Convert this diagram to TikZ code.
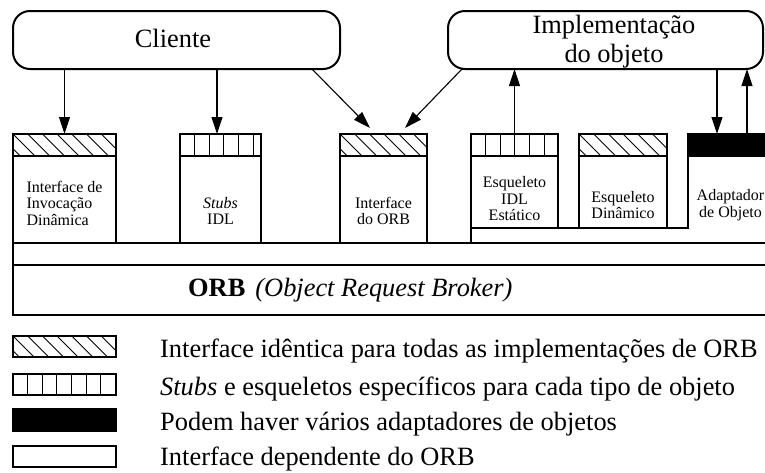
\documentclass[tikz,border=0pt]{standalone}
\usepackage{fontspec}
\setmainfont{Liberation Serif}
\usetikzlibrary{arrows.meta}
\begin{document}
\begin{tikzpicture}[x=1pt,y=-1pt,
  outl/.style={draw, line width=1.8pt, inner sep=0pt, outer sep=0pt},
  rbox/.style={outl, line width=2pt, rounded corners=17pt, minimum width=#1, minimum height=58pt},
  hatch/.style={path picture={\foreach \k in {-2,...,9}{\draw[line width=0.9pt] ([xshift=\k*14.7pt]path picture bounding box.north west) -- ++(24pt,-24pt);}}},
  stripes/.style={path picture={\foreach \k in {1,...,6}{\draw[line width=0.9pt] ([xshift=\k*14.6pt]path picture bounding box.north west) -- ([xshift=\k*14.6pt]path picture bounding box.south west);}}},
  band/.style={outl, minimum width=#1, minimum height=22pt},
  lbl/.style={inner sep=0pt, align=center, font=\fontsize{16}{16.5}\selectfont},
  big/.style={inner sep=0pt, font=\fontsize{26.4}{29}\selectfont},
  arr/.style={line width=1.1pt, -{Triangle[length=17pt,width=11pt]}}]
\clip (0,0) rectangle (765,472);

% top boxes
\node[rbox=327pt] (cliente) at (176.5,40) {};
\node[big, anchor=base] (clientetxt) at (173,47) {Cliente};
\node[rbox=315pt] (impl) at (605.5,40) {};
\node[big, align=center] (impltxt) at (614,41.5) {Implementação\\do objeto};

% ORB base lines
\coordinate (orbL1) at (13,243); \coordinate (orbR1) at (790,243);
\coordinate (orbL2) at (13,265); \coordinate (orbR2) at (790,265);
\coordinate (orbL3) at (13,315); \coordinate (orbR3) at (790,315);
\draw[line width=1.8pt] (orbR1) -- (orbL1) -- (orbL3) -- (orbR3);
\draw[line width=1.8pt] (orbL2) -- (orbR2);
\node[big, anchor=base west] (orbtxt) at (188,296) {\textbf{ORB}\hspace{10pt}\textit{(Object Request Broker)}};

% platform under skeletons / adapter
\coordinate (p1) at (471,243); \coordinate (p2) at (471,228);
\coordinate (p3) at (688,228); \coordinate (p4) at (688,134); \coordinate (p5) at (790,134);
\draw[line width=1.8pt] (p1) -- (p2) -- (p3) -- (p4) -- (p5);

% bodies
\node[outl, minimum width=103pt, minimum height=87pt] (body1) at (64.5,199.5) {};
\node[outl, minimum width=81pt, minimum height=87pt] (body2) at (220.5,199.5) {};
\node[outl, minimum width=87pt, minimum height=87pt] (body3) at (383.5,199.5) {};
\node[outl, minimum width=87pt, minimum height=72pt] (body4) at (514.5,192) {};
\node[outl, minimum width=88pt, minimum height=72pt] (body5) at (623,192) {};

% bands
\node[band=103pt, hatch] (band1) at (64.5,145) {};
\node[band=81pt, stripes] (band2) at (220.5,145) {};
\node[band=87pt, hatch] (band3) at (383.5,145) {};
\node[band=87pt, stripes] (band4) at (514.5,145) {};
\node[band=88pt, hatch] (band5) at (623,145) {};
\node[band=86pt, fill=black] (band6) at (731,145) {};

% labels
\node[lbl, align=left] (t1) at (64.5,203) {Interface de\\Invocação\\Dinâmica};
\node[lbl] (t2) at (220.5,211) {\textit{Stubs}\\IDL};
\node[lbl] (t3) at (383.5,211) {Interface\\do ORB};
\node[lbl] (t4) at (514.5,199) {Esqueleto\\IDL\\Estático};
\node[lbl] (t5) at (623,205) {Esqueleto\\Dinâmico};
\node[lbl] (t6) at (730.5,205) {Adaptador\\de Objeto};

% arrows
\coordinate (a2) at (217,134);
\coordinate (d1s) at (312,69); \coordinate (d1e) at (370,128);
\coordinate (d2s) at (462,69); \coordinate (d2e) at (405,128);
\coordinate (a6) at (717,134); \coordinate (a7) at (747,134);
\draw[arr] (cliente.south -| band1.north) -- (band1.north);
\draw[arr] (cliente.south -| a2) -- (a2);
\draw[arr] (d1s) -- (d1e);
\draw[arr] (d2s) -- (d2e);
\draw[arr] (band4.north) -- (impl.south -| band4.north);
\draw[arr] (impl.south -| a6) -- (a6);
\draw[arr] (a7) -- (impl.south -| a7);

% legend
\node[outl, minimum width=103pt, minimum height=21pt, hatch] (leg1) at (64.5,346.5) {};
\node[outl, minimum width=103pt, minimum height=21pt, stripes] (leg2) at (64.5,384.5) {};
\node[outl, minimum width=103pt, minimum height=22pt, fill=black] (leg3) at (64.5,420) {};
\node[outl, minimum width=103pt, minimum height=21pt] (leg4) at (64.5,456.5) {};
\node[big, anchor=base west] (lt1) at (160,357) {Interface idêntica para todas as implementações de ORB};
\node[big, anchor=base west] (lt2) at (160,395) {\textit{Stubs} e esqueletos específicos para cada tipo de objeto};
\node[big, anchor=base west] (lt3) at (160,430) {Podem haver vários adaptadores de objetos};
\node[big, anchor=base west] (lt4) at (160,465) {Interface dependente do ORB};
\end{tikzpicture}
\end{document}
